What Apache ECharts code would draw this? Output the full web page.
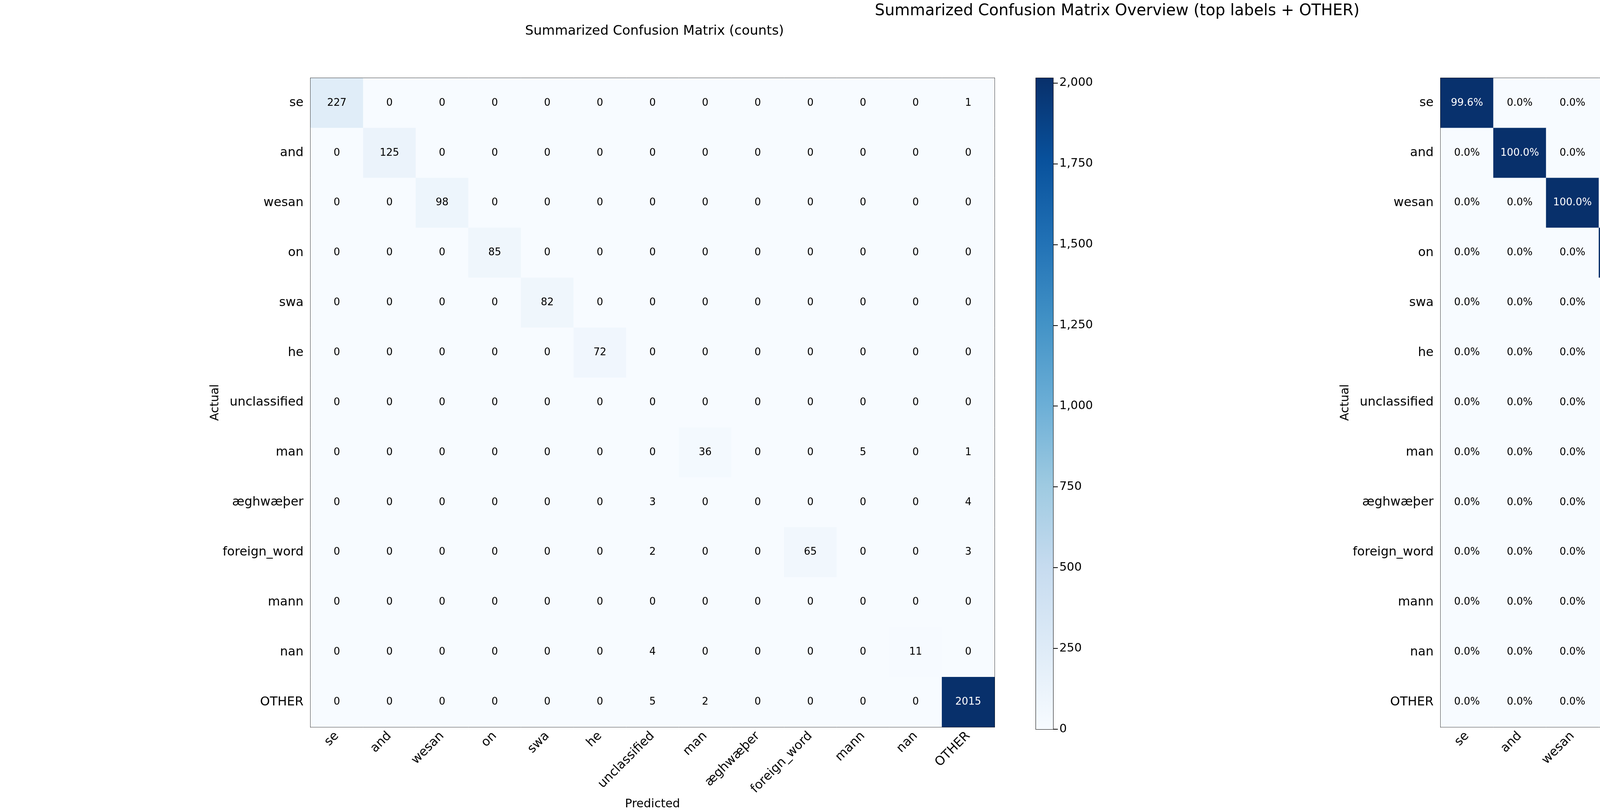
<!DOCTYPE html>
<html><head><meta charset="utf-8">
<script src="https://cdn.jsdelivr.net/npm/echarts@6/dist/echarts.min.js"></script>
<style>html,body{margin:0;background:#fff}#main{width:5720px;height:2080px}</style>
</head><body><div id="main"></div>
<script>
var labels = ['se','and','wesan','on','swa','he','unclassified','man','æghwæþer','foreign_word','mann','nan','OTHER'];
var counts = [
  [227,0,0,0,0,0,0,0,0,0,0,0,1],
  [0,125,0,0,0,0,0,0,0,0,0,0,0],
  [0,0,98,0,0,0,0,0,0,0,0,0,0],
  [0,0,0,85,0,0,0,0,0,0,0,0,0],
  [0,0,0,0,82,0,0,0,0,0,0,0,0],
  [0,0,0,0,0,72,0,0,0,0,0,0,0],
  [0,0,0,0,0,0,0,0,0,0,0,0,0],
  [0,0,0,0,0,0,0,36,0,0,5,0,1],
  [0,0,0,0,0,0,3,0,0,0,0,0,4],
  [0,0,0,0,0,0,2,0,0,65,0,0,3],
  [0,0,0,0,0,0,0,0,0,0,0,0,0],
  [0,0,0,0,0,0,4,0,0,0,0,11,0],
  [0,0,0,0,0,0,5,2,0,0,0,0,2015]
];
var percents = [
  [99.6,0,0,0,0,0,0,0,0,0,0,0,0.4],
  [0,100,0,0,0,0,0,0,0,0,0,0,0],
  [0,0,100,0,0,0,0,0,0,0,0,0,0],
  [0,0,0,100,0,0,0,0,0,0,0,0,0],
  [0,0,0,0,100,0,0,0,0,0,0,0,0],
  [0,0,0,0,0,100,0,0,0,0,0,0,0],
  [0,0,0,0,0,0,0,0,0,0,0,0,0],
  [0,0,0,0,0,0,0,85.7,0,0,11.9,0,2.4],
  [0,0,0,0,0,0,42.9,0,0,0,0,0,57.1],
  [0,0,0,0,0,0,2.9,0,0,92.9,0,0,4.3],
  [0,0,0,0,0,0,0,0,0,0,0,0,0],
  [0,0,0,0,0,0,26.7,0,0,0,0,73.3,0],
  [0,0,0,0,0,0,0.2,0.1,0,0,0,0,99.7]
];
var countMax = 2015, countTicks = 250;
var pctMax = 100, pctTicks = 20;

var blues = ['#f7fbff','#deebf7','#c6dbef','#9ecae1','#6baed6','#4292c6','#2171b5','#08519c','#08306b'];
var font = 'DejaVu Sans';

function cells(m, max, fmt) {
  var out = [];
  m.forEach(function (row, r) {
    row.forEach(function (v, c) {
      out.push({value: [c, r, v], label: {color: v > max / 2 ? '#fff' : '#000', formatter: fmt(v)}});
    });
  });
  return out;
}

var plots = [{left: 795, width: 1751}, {left: 3688, width: 1755}];
var bars = [{left: 2652, max: countMax, interval: countTicks}, {left: 5545, max: pctMax, interval: pctTicks}];
var plotTop = 200, plotHeight = 1668;

var grids = [], xAxes = [], yAxes = [];
plots.forEach(function (p, i) {
  grids.push({left: p.left, top: plotTop, width: p.width, height: plotHeight, show: true, borderColor: '#000', borderWidth: 2});
  xAxes.push({type: 'category', gridIndex: i, data: labels, name: 'Predicted', nameLocation: 'middle', nameGap: 180,
    nameTextStyle: {fontSize: 30, color: '#000', fontFamily: font},
    axisLabel: {rotate: 45, fontSize: 32, color: '#000', fontFamily: font, margin: 18},
    axisTick: {alignWithLabel: true, length: 12, lineStyle: {color: '#000', width: 2}},
    axisLine: {lineStyle: {color: '#000', width: 2}}, splitLine: {show: false}});
  yAxes.push({type: 'category', gridIndex: i, data: labels, inverse: true, name: 'Actual', nameLocation: 'middle', nameGap: 205,
    nameRotate: 90, nameTextStyle: {fontSize: 30, color: '#000', fontFamily: font},
    axisLabel: {fontSize: 32, color: '#000', fontFamily: font, margin: 18},
    axisTick: {alignWithLabel: true, length: 12, lineStyle: {color: '#000', width: 2}},
    axisLine: {lineStyle: {color: '#000', width: 2}}, splitLine: {show: false}});
});
bars.forEach(function (b, j) {
  var gi = j + 2;
  grids.push({left: b.left, top: plotTop, width: 44, height: plotHeight, show: true, borderColor: '#000', borderWidth: 2});
  xAxes.push({type: 'category', gridIndex: gi, data: ['c'], show: false});
  yAxes.push({type: 'value', gridIndex: gi, min: 0, max: b.max, interval: b.interval, position: 'right',
    axisLabel: {fontSize: 30, color: '#000', fontFamily: font, margin: 16, showMaxLabel: b.max % b.interval === 0},
    axisTick: {show: true, length: 12, lineStyle: {color: '#000', width: 2}},
    axisLine: {show: false}, splitLine: {show: false}});
});

function barSeries(j, max) {
  var stops = blues.map(function (c, k) { return {offset: 1 - k / (blues.length - 1), color: c}; });
  return {type: 'custom', xAxisIndex: j + 2, yAxisIndex: j + 2, silent: true, data: [[0, max]],
    renderItem: function (params, api) {
      var p0 = api.coord([0, 0]), p1 = api.coord([0, max]);
      var w = api.size([1, 0])[0];
      return {type: 'rect', shape: {x: p0[0] - w / 2, y: p1[1], width: w, height: p0[1] - p1[1]},
        style: {fill: new echarts.graphic.LinearGradient(0, 0, 0, 1, stops)}};
    }};
}

var chart = echarts.init(document.getElementById('main'));
chart.setOption({
  animation: false,
  title: [
    {text: 'Summarized Confusion Matrix Overview (top labels + OTHER)', left: 'center', top: 4, textStyle: {fontSize: 40, fontWeight: 'normal', color: '#000', fontFamily: font}},
    {text: 'Summarized Confusion Matrix (counts)', left: 795 + 1751 / 2, textAlign: 'center', top: 58, textStyle: {fontSize: 34, fontWeight: 'normal', color: '#000', fontFamily: font}},
    {text: 'Summarized Confusion Matrix (row %)', left: 3688 + 1755 / 2, textAlign: 'center', top: 58, textStyle: {fontSize: 34, fontWeight: 'normal', color: '#000', fontFamily: font}}
  ],
  grid: grids, xAxis: xAxes, yAxis: yAxes,
  visualMap: [
    {show: false, min: 0, max: countMax, seriesIndex: 0, dimension: 2, inRange: {color: blues}},
    {show: false, min: 0, max: pctMax, seriesIndex: 1, dimension: 2, inRange: {color: blues}}
  ],
  series: [
    {type: 'heatmap', xAxisIndex: 0, yAxisIndex: 0, data: cells(counts, countMax, function (v) { return String(v); }),
      label: {show: true, fontSize: 26, fontFamily: font}},
    {type: 'heatmap', xAxisIndex: 1, yAxisIndex: 1, data: cells(percents, pctMax, function (v) { return v.toFixed(1) + '%'; }),
      label: {show: true, fontSize: 26, fontFamily: font}},
    barSeries(0, countMax),
    barSeries(1, pctMax)
  ]
});
</script>
</body></html>
